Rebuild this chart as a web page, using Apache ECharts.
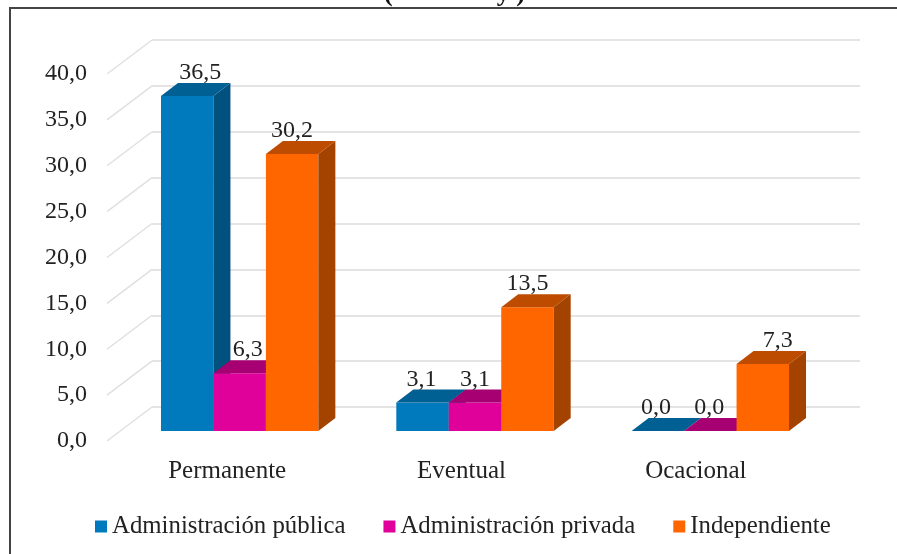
<!DOCTYPE html>
<html lang="en">

<head>
    <meta charset="UTF-8">
    <title>Administración</title>
    <style>
        html, body { margin: 0; background: #fff; }
        #chart { width: 897px; height: 554px; filter: blur(0.5px); }
    </style>
</head>

<body>
    <div id="chart"></div>
    <script src="https://cdn.jsdelivr.net/npm/echarts@6/dist/echarts.min.js"></script>
    <script>
        var categories = ['Permanente', 'Eventual', 'Ocacional']
        var publica = [36.5, 3.1, 0.0]
        var privada = [6.3, 3.1, 0.0]
        var independiente = [30.2, 13.5, 7.3]
        var seriesNames = ['Administración pública', 'Administración privada', 'Independiente']
        var ticks = [0, 5, 10, 15, 20, 25, 30, 35, 40]

        var FONT = '"Liberation Serif", serif'
        var DX = 17, DY = 13 // bar depth
        var BAR = 0.2229 // bar width, share of the category band
        // labels were moved by hand in the original, nudge by series / category
        var labelNudge = [[13, -1, -2], [8, 0, -1], [0, 0, 15]]

        function fmt(v) {
            return v.toFixed(1).replace('.', ',')
        }

        function barSeries(name, values, idx, front, side, top) {
            return {
                name: name,
                type: 'custom',
                xAxisIndex: 2,
                yAxisIndex: 2,
                itemStyle: { color: front },
                z: 5 + idx,
                data: values.map(function (v, i) { return [i, v] }),
                renderItem: function (params, api) {
                    var cat = api.value(0)
                    var base = api.coord([cat, 0])
                    var tip = api.coord([cat, api.value(1)])
                    var w = api.size([1, 0])[0] * BAR
                    var x = base[0] + (idx - 1.5) * w
                    var y0 = base[1], y1 = tip[1]
                    var kids = []
                    if (y0 - y1 > 0) {
                        kids.push({ type: 'rect', shape: { x: x, y: y1, width: w, height: y0 - y1 }, style: { fill: front } })
                    }
                    kids.push({
                        type: 'polygon',
                        shape: { points: [[x + w, y0], [x + w + DX, y0 - DY], [x + w + DX, y1 - DY], [x + w, y1]] },
                        style: { fill: side }
                    })
                    kids.push({
                        type: 'polygon',
                        shape: { points: [[x, y1], [x + DX, y1 - DY], [x + w + DX, y1 - DY], [x + w, y1]] },
                        style: { fill: top }
                    })
                    return { type: 'group', children: kids }
                }
            }
        }

        // value labels go in their own series so that no bar covers them
        function labelSeries(values, idx) {
            return {
                type: 'custom',
                xAxisIndex: 2,
                yAxisIndex: 2,
                silent: true,
                z: 20,
                data: values.map(function (v, i) { return [i, v] }),
                renderItem: function (params, api) {
                    var cat = api.value(0)
                    var base = api.coord([cat, 0])
                    var tip = api.coord([cat, api.value(1)])
                    var w = api.size([1, 0])[0] * BAR
                    return {
                        type: 'text',
                        style: {
                            text: fmt(api.value(1)),
                            x: base[0] + (idx - 1) * w + labelNudge[idx][cat],
                            y: tip[1] - DY - 10,
                            align: 'center',
                            verticalAlign: 'middle',
                            font: '24px ' + FONT,
                            fill: '#222'
                        }
                    }
                }
            }
        }

        var myecharts = echarts.init(document.getElementById('chart'), null, { renderer: 'canvas' })
        var option = {
            animation: false,
            backgroundColor: '#fff',
            // the title is cut off by the top of the picture, only these marks can be read
            title: {
                text: '(\u00a0\u00a0\u00a0\u00a0\u00a0\u00a0\u00a0\u00a0\u00a0\u00a0\u00a0\u00a0\u00a0\u00a0\u00a0\u00a0y\u00a0)',
                left: 379,
                top: -24,
                textStyle: { fontFamily: FONT, fontSize: 26, fontWeight: 'bold', color: '#111' }
            },
            graphic: [{
                type: 'rect',
                silent: true,
                z: 100,
                shape: { x: 10, y: 8, width: 900, height: 560 },
                style: { fill: 'none', stroke: '#444', lineWidth: 2 }
            }],
            legend: {
                left: 90,
                top: 509,
                itemWidth: 12,
                itemHeight: 12,
                itemGap: 38,
                icon: 'rect',
                selectedMode: false,
                data: seriesNames,
                textStyle: { fontFamily: FONT, fontSize: 24.8, color: '#222' }
            },
            grid: [
                { left: 152, right: 37, top: 40, bottom: 147 },  // back wall
                { left: 110, right: 84, top: 74, bottom: 113 },  // front plane, axis text
                { left: 122, right: 69, top: 64, bottom: 123 }   // bars
            ],
            xAxis: [
                { gridIndex: 0, type: 'category', data: categories, show: false },
                {
                    gridIndex: 1,
                    type: 'category',
                    data: categories,
                    axisLine: { show: false },
                    axisTick: { show: false },
                    axisLabel: { margin: 18, fontFamily: FONT, fontSize: 25, color: '#222' }
                },
                { gridIndex: 2, type: 'category', data: categories, show: false }
            ],
            yAxis: [
                {
                    gridIndex: 0, type: 'value', min: 0, max: 40, interval: 5,
                    axisLabel: { show: false },
                    axisLine: { show: false },
                    axisTick: { show: false },
                    splitLine: { show: true, lineStyle: { color: '#e4e4e4', width: 2 } }
                },
                {
                    gridIndex: 1, type: 'value', min: 0, max: 40, interval: 5,
                    splitLine: { show: false },
                    axisLine: { show: false },
                    axisTick: { show: false },
                    axisLabel: { margin: 23, fontFamily: FONT, fontSize: 24, color: '#222', formatter: fmt }
                },
                { gridIndex: 2, type: 'value', min: 0, max: 40, interval: 5, show: false }
            ],
            series: [
                {
                    // slanted side wall lines, from the axis up to the back wall
                    type: 'custom',
                    xAxisIndex: 1,
                    yAxisIndex: 1,
                    silent: true,
                    z: 1,
                    data: ticks.map(function (t) { return [0, t] }),
                    renderItem: function (params, api) {
                        var p = api.coord([0, api.value(1)])
                        return {
                            type: 'line',
                            shape: { x1: 107, y1: p[1], x2: 152, y2: p[1] - 34 },
                            style: { stroke: '#e0e0e0', lineWidth: 1.5 }
                        }
                    }
                },
                barSeries(seriesNames[0], publica, 0, '#007abd', '#00517d', '#005f93'),
                barSeries(seriesNames[1], privada, 1, '#e0009a', '#8a0060', '#a60072'),
                barSeries(seriesNames[2], independiente, 2, '#ff6600', '#a44200', '#bd4c00'),
                labelSeries(publica, 0),
                labelSeries(privada, 1),
                labelSeries(independiente, 2)
            ]
        }
        myecharts.setOption(option)
    </script>
</body>

</html>
